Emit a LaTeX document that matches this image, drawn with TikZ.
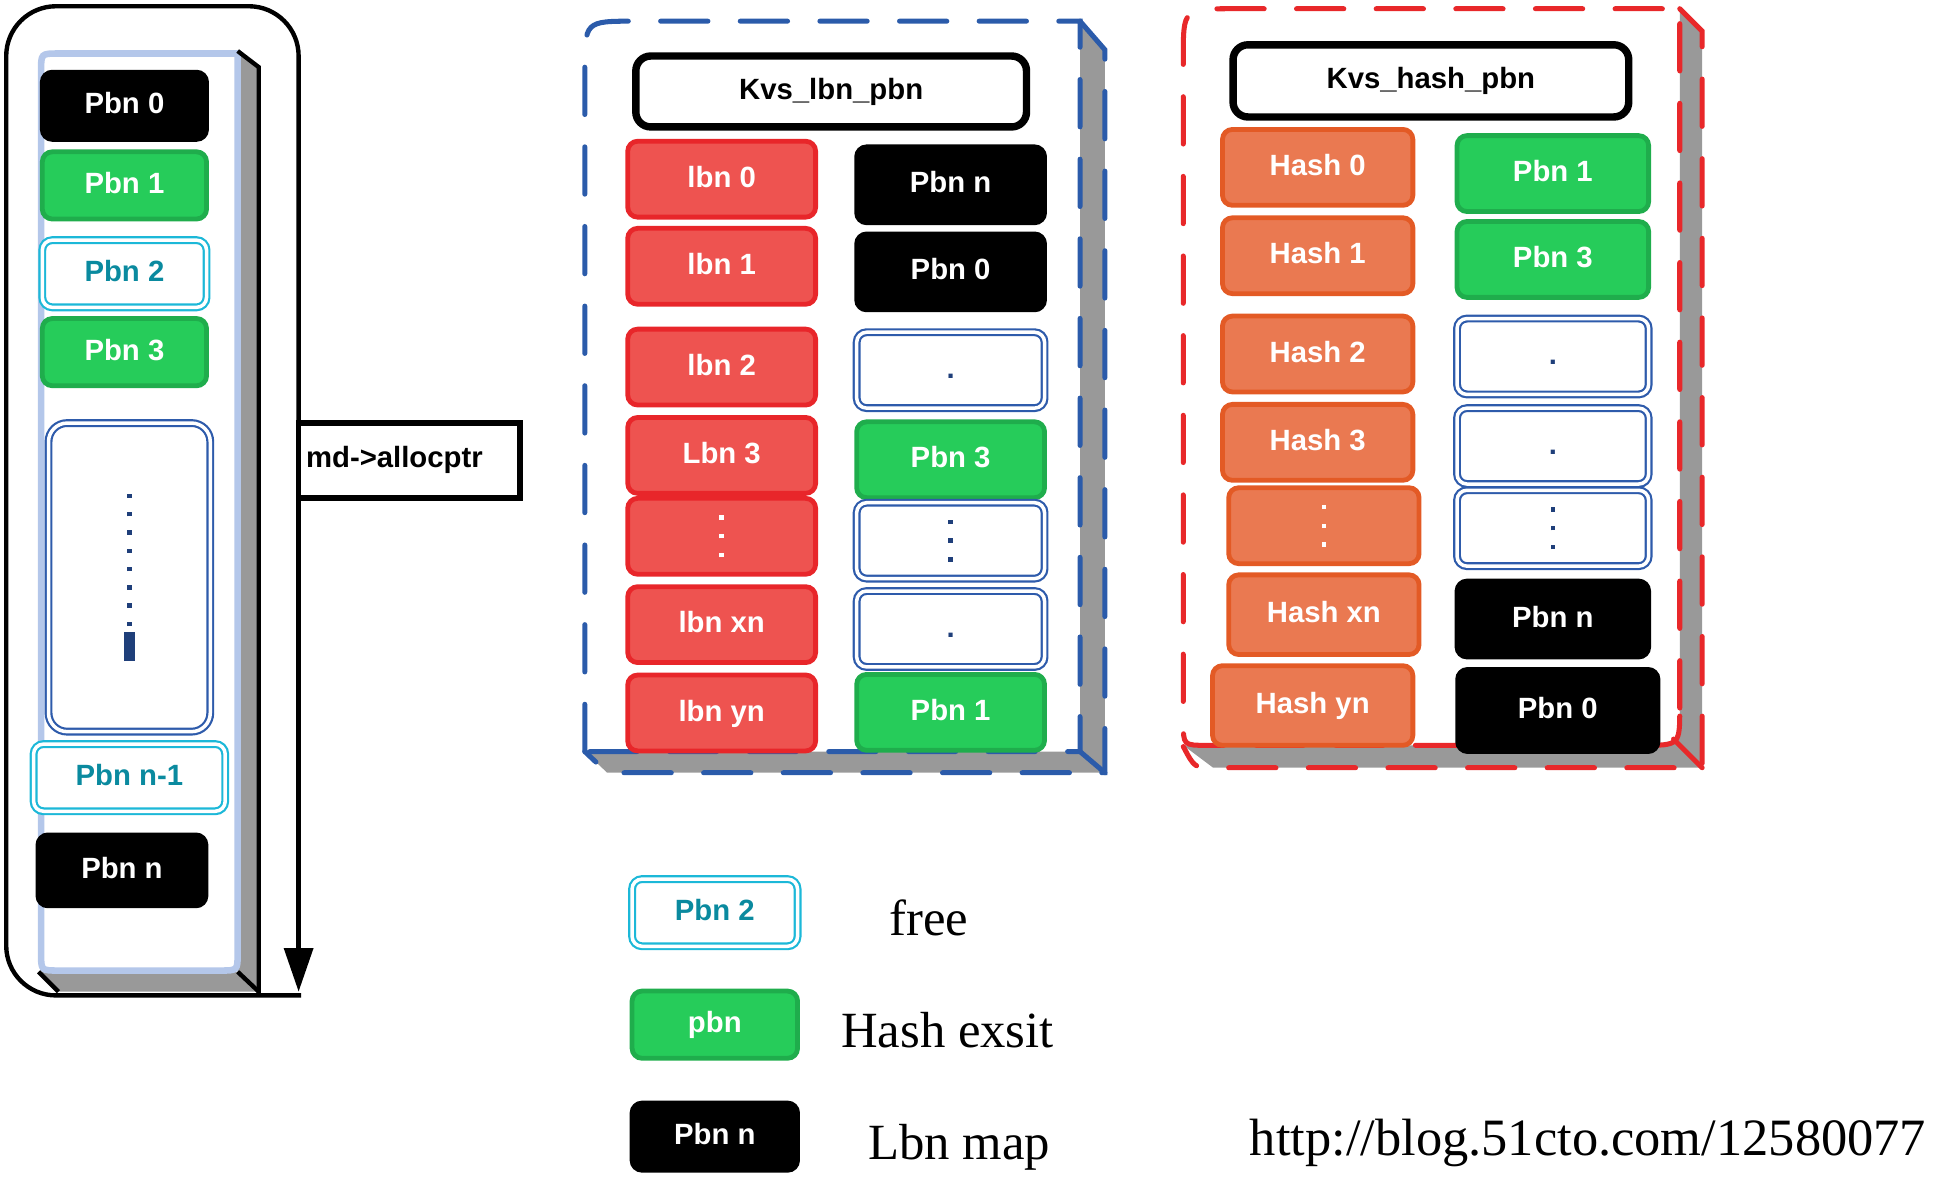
\documentclass[tikz,border=0pt]{standalone}
\usepackage{fontspec}
\setmainfont{Liberation Serif}
\newfontfamily\boxsans{Liberation Sans}
\usepackage{tikz}
\usetikzlibrary{arrows.meta,positioning}
\definecolor{slotgreen}{HTML}{26CC5A}
\definecolor{slotgreenline}{HTML}{1FAD4C}
\definecolor{lbnred}{HTML}{EE5350}
\definecolor{lbnredline}{HTML}{E8262A}
\definecolor{hashorange}{HTML}{EA7951}
\definecolor{hashorangeline}{HTML}{E35A25}
\definecolor{freecyan}{HTML}{1CB8D8}
\definecolor{freetext}{HTML}{0A8A9F}
\definecolor{slotblue}{HTML}{2E5BAB}
\definecolor{dotblue}{HTML}{1F3F7A}
\definecolor{framegray}{HTML}{999999}
\definecolor{pageblue}{HTML}{B4C7EA}
\definecolor{dashblue}{HTML}{2B5BAA}
\definecolor{dashred}{HTML}{E8282A}
\newcommand{\slotfont}{\boxsans\bfseries\fontsize{6.7}{8}\selectfont}
\newcommand{\keyfont}{\fontsize{11.6}{14}\selectfont}
\newcommand{\sqdot}{\rule{0.35mm}{0.35mm}}
\newcommand{\threedots}{\sqdot\\[-1.3mm]\sqdot\\[-1.3mm]\sqdot}

\begin{document}
\begin{tikzpicture}[
  x=0.1mm,y=-0.1mm,
  every node/.style={outer sep=0pt},
  slot/.style={font=\slotfont,text=white,minimum width=15.1mm,minimum height=6.1mm,inner sep=0pt,
    text height=1.75mm,text depth=0.45mm,rounded corners=0.8mm,line width=1.1pt,align=center},
  blackslot/.style={slot,fill=black,draw=black},
  greenslot/.style={slot,fill=slotgreen,draw=slotgreenline},
  lbnslot/.style={slot,fill=lbnred,draw=lbnredline},
  hashslot/.style={slot,fill=hashorange,draw=hashorangeline,minimum width=15.3mm},
  freeslot/.style={slot,text=freetext,fill=white,draw=freecyan,line width=0.5pt,double=white,double distance=0.8pt},
  emptyslot/.style={slot,text=dotblue,fill=white,draw=slotblue,line width=0.5pt,double=white,double distance=0.8pt},
  dotcol/.style={text height={},text depth={}},
  leftslot/.style={minimum width=13.2mm,minimum height=5.4mm},
  hashcol/.style={minimum width=15.4mm},
  keyslot/.style={minimum width=13.3mm,minimum height=5.4mm},
  tablehead/.style={font=\slotfont,draw=black,fill=white,line width=1.7pt,rounded corners=1.2mm,
    minimum width=31.4mm,minimum height=5.7mm},
  ptrbox/.style={font=\slotfont,draw=black,fill=white,line width=1.3pt,align=left,text width=16.6mm,
    inner xsep=0.6mm,minimum height=6mm},
  frameline/.style={draw=black,line width=1pt},
  bluedash/.style={draw=dashblue,line width=1.15pt,dash pattern=on 3.8mm off 2.6mm,line cap=round},
  reddash/.style={draw=dashred,line width=1.15pt,dash pattern=on 3.8mm off 2.6mm,line cap=round},
  keytext/.style={font=\keyfont,inner sep=0pt,text height=4.1mm,text depth=0.4mm}
]
  \useasboundingbox (0,0) rectangle (1568,962);

  \fill[framegray] (191,41) -- (208,54) -- (208,797) -- (47,797) -- (31,781) -- (191,781) -- cycle;
  \draw[pageblue,line width=1.5pt,fill=white] (191,43) -- (191,766) .. controls (191,780) .. (177,780) -- (47,780)
    .. controls (33,780) .. (33,766) -- (33,57) .. controls (33,43) .. (47,43) -- cycle;
  \draw[frameline] (191,41) -- (208,54) -- (208,800);
  \draw[frameline] (31,781) -- (47,797);
  \draw[frameline] (191,781) -- (208,797);

  \node[blackslot,leftslot] (lp0) at (100,85) {Pbn 0};
  \node[greenslot,leftslot,below=1.0mm of lp0] (lp1) {Pbn 1};
  \node[freeslot,leftslot,below=1.7mm of lp1] (lp2) {Pbn 2};
  \node[greenslot,leftslot,below=0.9mm of lp2] (lp3) {Pbn 3};
  \node[emptyslot,dotcol,minimum width=13.0mm,minimum height=24.8mm,rounded corners=1.5mm,below=3.0mm of lp3,xshift=0.4mm] (lrest)
    {\sqdot\\[-1.34mm]\sqdot\\[-1.34mm]\sqdot\\[-1.34mm]\sqdot\\[-1.34mm]\sqdot\\[-1.34mm]\sqdot\\[-1.34mm]\sqdot\\[-1.34mm]\sqdot\\\rule{0.85mm}{2.3mm}};
  \node[freeslot,minimum width=15.4mm,minimum height=5.4mm,below=1.0mm of lrest] (lpn1) {Pbn n-1};
  \node[blackslot,minimum width=13.5mm,minimum height=5.7mm,below=1.9mm of lpn1,xshift=-0.6mm] (lpn) {Pbn n};

  \node[ptrbox,anchor=north west] (ptr) at (240,340) {md->allocptr};
  \coordinate (ptrtip) at (240,797);
  \draw[frameline,rounded corners=4mm] (ptr.north west) |- (5,5) |- (242,800);
  \draw[frameline,-{Triangle[length=3.5mm,width=2.3mm]}] (ptr.south west) -- (ptrtip);

  \fill[framegray] (868,17) -- (888,40) -- (888,621) -- (488,621) -- (470,604) -- (868,604) -- cycle;
  \draw[bluedash] (470,604) -- (470,57) .. controls (470,17) .. (510,17) -- (868,17) -- (868,604) -- cycle;
  \draw[bluedash] (868,17) -- (888,40) -- (888,621) -- (488,621) -- (470,604);
  \draw[bluedash] (868,604) -- (888,621);

  \node[tablehead] (lbnhead) at (668,73.5) {Kvs\_lbn\_pbn};
  \node[lbnslot] (lbn0) at (580,144) {lbn 0};
  \node[lbnslot,below=0.9mm of lbn0] (lbn1) {lbn 1};
  \node[lbnslot,below=2.0mm of lbn1] (lbn2) {lbn 2};
  \node[lbnslot,below=1.0mm of lbn2] (lbn3) {Lbn 3};
  \node[lbnslot,dotcol,below=0.4mm of lbn3] (lbndots) {\threedots};
  \node[lbnslot,below=1.0mm of lbndots] (lbnxn) {lbn xn};
  \node[lbnslot,below=1.0mm of lbnxn] (lbnyn) {lbn yn};

  \node[blackslot] (mpn) at (764,148.5) {Pbn n};
  \node[blackslot,below=0.9mm of mpn] (mp0) {Pbn 0};
  \node[emptyslot,below=1.8mm of mp0] (mpa) {.};
  \node[greenslot,below=1.1mm of mpa] (mp3) {Pbn 3};
  \node[emptyslot,dotcol,below=0.4mm of mp3] (mpdots) {\threedots};
  \node[emptyslot,below=1.0mm of mpdots] (mpb) {.};
  \node[greenslot,below=0.6mm of mpb] (mp1) {Pbn 1};

  \fill[framegray] (1350,7) -- (1368,25) -- (1368,617) -- (975,617) -- (951,599) -- (1320,599)
    .. controls (1350,599) .. (1350,569) -- cycle;
  \draw[reddash] (1350,569) -- (1350,7) -- (990,7) .. controls (951,7) .. (951,46) -- (951,580)
    .. controls (951,599) .. (970,599) -- (1320,599) .. controls (1350,599) .. (1350,569);
  \draw[reddash] (1350,7) -- (1368,25) -- (1368,617) -- (975,617) .. controls (960,617) .. (951,600);
  \draw[reddash] (1345,594) -- (1368,617);

  \node[tablehead,minimum width=31.8mm,minimum height=5.8mm] (hashhead) at (1150,65) {Kvs\_hash\_pbn};
  \node[hashslot] (hash0) at (1059,134.5) {Hash 0};
  \node[hashslot,below=1.0mm of hash0] (hash1) {Hash 1};
  \node[hashslot,below=1.8mm of hash1] (hash2) {Hash 2};
  \node[hashslot,below=1.0mm of hash2] (hash3) {Hash 3};
  \node[hashslot,dotcol,below=0.6mm of hash3,xshift=0.5mm] (hashdots) {\threedots};
  \node[hashslot,minimum height=6.4mm,below=0.9mm of hashdots] (hashxn) {Hash xn};
  \node[hashslot,minimum height=6.4mm,minimum width=16.1mm,below=0.9mm of hashxn,xshift=-0.9mm] (hashyn) {Hash yn};

  \node[greenslot,hashcol] (hp1) at (1248,139.5) {Pbn 1};
  \node[greenslot,hashcol,below=0.8mm of hp1] (hp3) {Pbn 3};
  \node[emptyslot,hashcol,below=1.7mm of hp3] (hpa) {.};
  \node[emptyslot,hashcol,below=1.1mm of hpa] (hpb) {.};
  \node[emptyslot,hashcol,dotcol,below=0.5mm of hpb] (hpdots) {\threedots};
  \node[blackslot,hashcol,below=1.2mm of hpdots] (hpn) {Pbn n};
  \node[blackslot,minimum width=16.1mm,minimum height=6.6mm,below=1.0mm of hpn,xshift=0.4mm] (hp0) {Pbn 0};

  \node[freeslot,keyslot] (keyfree) at (574.5,733.5) {Pbn 2};
  \node[greenslot,keyslot,below=3.6mm of keyfree] (keyhash) {pbn};
  \node[blackslot,keyslot,below=3.6mm of keyhash] (keymap) {Pbn n};
  \node[keytext,right=7.4mm of keyfree] (freetxt) {free};
  \node[keytext,right=3.5mm of keyhash] (hashtxt) {Hash exsit};
  \node[keytext,right=5.7mm of keymap] (maptxt) {Lbn map};
  \node[font=\fontsize{12}{14}\selectfont,inner sep=0pt,anchor=base east] (blogurl) at (1548,929) {http://blog.51cto.com/12580077};
\end{tikzpicture}
\end{document}
